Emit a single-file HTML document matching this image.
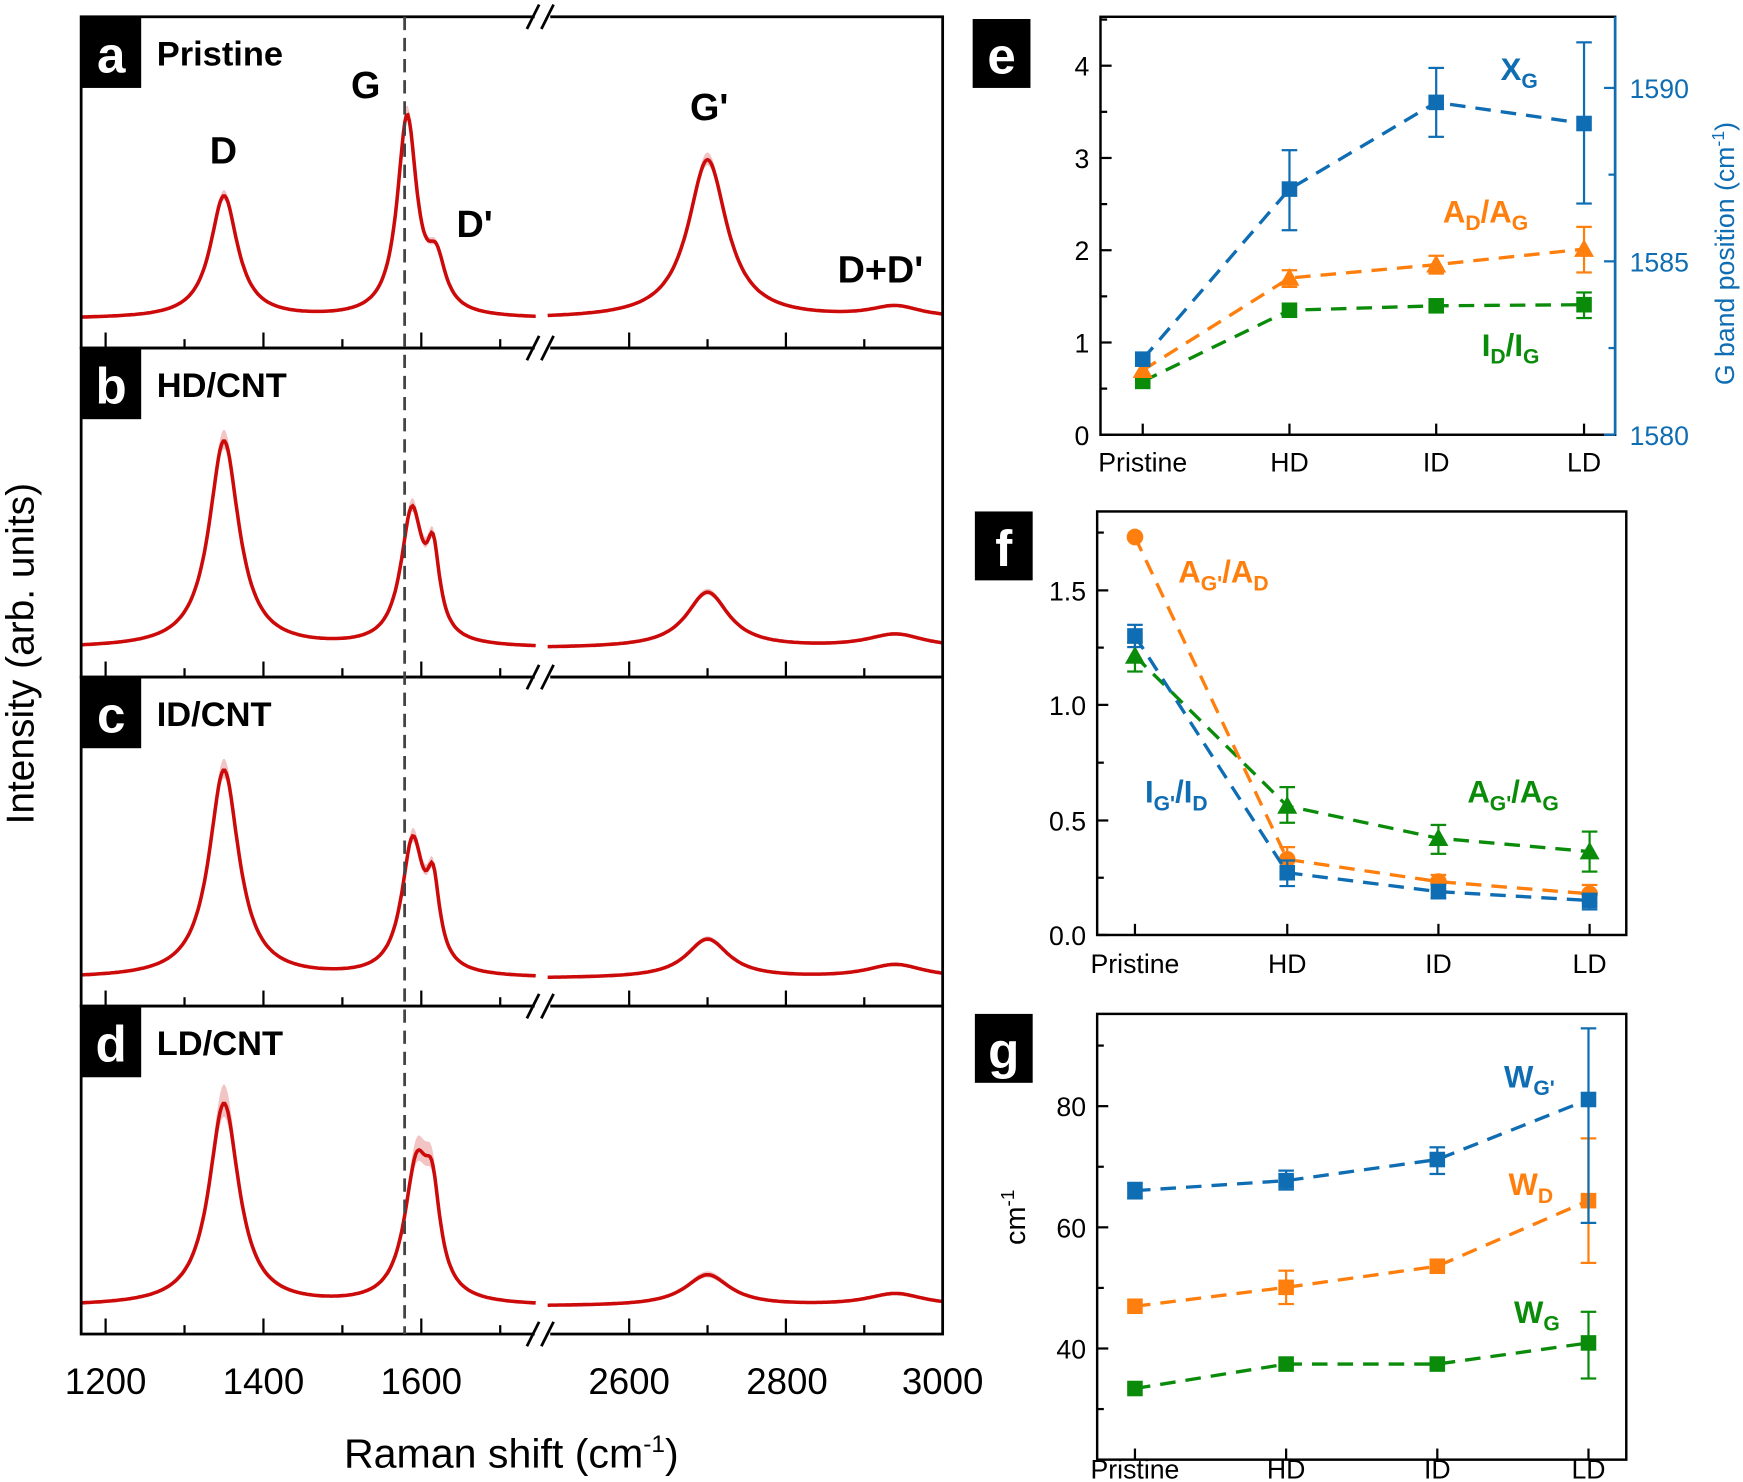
<!DOCTYPE html>
<html><head><meta charset="utf-8"><style>
html,body{margin:0;padding:0;background:#fff}
svg{display:block}
text{font-family:"Liberation Sans",Arial,sans-serif}
</style></head><body>
<svg id="s" width="1743" height="1482" viewBox="0 0 1568 1333" xmlns="http://www.w3.org/2000/svg">
<rect width="1568" height="1333" fill="#fff"/>
<g id="left"></g>
<g id="right"></g>
</svg>
<script>
const NS="http://www.w3.org/2000/svg";
function el(p,tag,attrs,txt){const e=document.createElementNS(NS,tag);for(const k in attrs)e.setAttribute(k,attrs[k]);if(txt!==undefined)e.textContent=txt;p.appendChild(e);return e;}
const L=document.getElementById('left'), R=document.getElementById('right');
const X0=73,X1=848;
function xp(c){return c<2000?95+(c-1200)*0.71:566+(c-2600)*0.705;}
const panels=[
 {t:15,b:313,base:283,lab:'a',name:'Pristine',pk:[[1350,110,21],[1582,178,15],[1619,42,14],[2700,143,30],[2940,10,40]],sh:0.04},
 {t:313,b:609,base:578,lab:'b',name:'HD/CNT',pk:[[1350,186,23],[1588,118,17],[1615,68,10],[2700,50,33],[2940,12,45]],sh:0.05},
 {t:609,b:905,base:875,lab:'c',name:'ID/CNT',pk:[[1350,187,23],[1589,118,17],[1615,66,10],[2700,35,33],[2940,12,45]],sh:0.05},
 {t:905,b:1200,base:1170,lab:'d',name:'LD/CNT',pk:[[1350,182,23],[1594,118,19],[1614,72,12],[2700,28,35],[2940,11,45]],sh:0.09}
];
panels.forEach(p=>{
 function y(c){let s=0;p.pk.forEach(k=>{s+=k[1]/(1+Math.pow((c-k[0])/k[2],2));});return p.base-s+6;}
 const off=y(1200)-p.base;
 function yy(c){return y(c)-off*0.6;}
 [[1169,1745],[2496,3000]].forEach(seg=>{
  let d='';
  for(let c=seg[0];c<=seg[1];c+=2){const X=xp(c).toFixed(1),Y=yy(c).toFixed(1);d+=(d?'L':'M')+X+' '+Y;}
  let a=[],b=[];
  for(let c=seg[0];c<=seg[1];c+=2){const Y=yy(c),h=(p.base-Y);a.push(xp(c).toFixed(1)+' '+(Y-h*p.sh-1).toFixed(1));b.unshift(xp(c).toFixed(1)+' '+(Y+h*p.sh*0.7+1).toFixed(1));}
  el(L,'path',{d:'M'+a.join('L')+'L'+b.join('L')+'Z',fill:'#f2c4c4'});
  el(L,'path',{d:d,fill:'none',stroke:'#cc0a0a','stroke-width':3.2});
 });
 el(L,'rect',{x:X0,y:p.t,width:X1-X0,height:p.b-p.t,fill:'none',stroke:'#000','stroke-width':2.5});
 [1200,1400,1600,2600,2800,3000].forEach(c=>el(L,'line',{x1:xp(c),x2:xp(c),y1:p.b,y2:p.b-14,stroke:'#000','stroke-width':2}));
 [1300,1500,1700,2700,2900].forEach(c=>el(L,'line',{x1:xp(c),x2:xp(c),y1:p.b,y2:p.b-8,stroke:'#000','stroke-width':2}));
 el(L,'rect',{x:X0,y:p.t,width:54,height:64,fill:'#000'});
 el(L,'text',{x:X0+27,y:p.t+50,'font-size':46,'font-weight':'bold',fill:'#fff','text-anchor':'middle'},p.lab);
 el(L,'text',{x:141,y:p.t+44,'font-size':31,'font-weight':'bold'},p.name);
});
el(L,'line',{x1:364,x2:364,y1:15,y2:1200,stroke:'#444','stroke-width':2.5,'stroke-dasharray':'12,7'});
[15,313,609,905,1200].forEach(y=>{
 el(L,'rect',{x:481,y:y-3,width:14,height:6,fill:'#fff'});
 el(L,'line',{x1:474,y1:y+11,x2:485,y2:y-11,stroke:'#000','stroke-width':2.5});
 el(L,'line',{x1:487,y1:y+11,x2:498,y2:y-11,stroke:'#000','stroke-width':2.5});
});
[['D',201,147],['G',329,88],["D'",427,213],["G'",638,108],["D+D'",792,254]].forEach(t=>el(L,'text',{x:t[1],y:t[2],'font-size':34,'font-weight':'bold','text-anchor':'middle'},t[0]));
[[1200,95],[1400,237],[1600,379],[2600,566],[2800,708],[3000,848]].forEach(t=>el(L,'text',{x:t[1],y:1254,'font-size':33,'text-anchor':'middle'},t[0]));
const xl=el(L,'text',{x:460,y:1320,'font-size':37,'text-anchor':'middle'});
xl.innerHTML='Raman shift (cm<tspan dy="-14" font-size="22">-1</tspan><tspan dy="14">)</tspan>';
el(L,'text',{x:0,y:0,'font-size':35,'text-anchor':'middle',transform:'translate(30,588) rotate(-90)'},'Intensity (arb. units)');

const BL='#0f6db3',OR='#ff7f0e',GR='#0a8c0a';
function frame(x0,y0,x1,y1){el(R,'rect',{x:x0,y:y0,width:x1-x0,height:y1-y0,fill:'none',stroke:'#000','stroke-width':2.2});}
function box(x,y,l){el(R,'rect',{x:x,y:y,width:52,height:62,fill:'#000'});el(R,'text',{x:x+26,y:y+49,'font-size':46,'font-weight':'bold',fill:'#fff','text-anchor':'middle'},l);}
function marker(x,y,type,col){
 if(type=='s')el(R,'rect',{x:x-7,y:y-7,width:14,height:14,fill:col});
 else if(type=='t')el(R,'path',{d:`M${x} ${y-9}L${x+9} ${y+7}L${x-9} ${y+7}Z`,fill:col});
 else el(R,'circle',{cx:x,cy:y,r:7.5,fill:col});
}
function series(xs,ys,errs,type,col){
 el(R,'path',{d:'M'+xs.map((x,i)=>x+' '+ys[i]).join('L'),fill:'none',stroke:col,'stroke-width':3,'stroke-dasharray':'14,9'});
 xs.forEach((x,i)=>{const e=errs[i];if(e){el(R,'line',{x1:x,x2:x,y1:e[0],y2:e[1],stroke:col,'stroke-width':2});el(R,'line',{x1:x-7,x2:x+7,y1:e[0],y2:e[0],stroke:col,'stroke-width':2});el(R,'line',{x1:x-7,x2:x+7,y1:e[1],y2:e[1],stroke:col,'stroke-width':2});}marker(x,ys[i],type,col);});
}
function sublab(x,y,main,col){const t=el(R,'text',{x:x,y:y,'font-size':28,'font-weight':'bold',fill:col});t.innerHTML=main;}
function yticks(x0,major,minor,labx){
 major.forEach(t=>{el(R,'line',{x1:x0,x2:x0+10,y1:t[1],y2:t[1],stroke:'#000','stroke-width':2});el(R,'text',{x:labx,y:t[1]+9,'font-size':24,'text-anchor':'end'},t[0]);});
 minor.forEach(y=>el(R,'line',{x1:x0,x2:x0+6,y1:y,y2:y,stroke:'#000','stroke-width':2}));
}
function xticks(xs,yb,ly){xs.forEach((x,i)=>{el(R,'line',{x1:x,x2:x,y1:yb,y2:yb-10,stroke:'#000','stroke-width':2});el(R,'text',{x:x,y:ly,'font-size':24,'text-anchor':'middle'},['Pristine','HD','ID','LD'][i]);});}
// panel e
frame(990,15,1453,391);box(875,17,'e');
const ex=[1028,1160,1292,1425];
yticks(990,[[0,391],[1,308],[2,225],[3,142],[4,59]],[349.5,266.5,183.5,100.5,17.5],980);
[[1580,391],[1585,235],[1590,79]].forEach(t=>{el(R,'line',{x1:1453,x2:1443,y1:t[1],y2:t[1],stroke:BL,'stroke-width':2});el(R,'text',{x:1466,y:t[1]+9,'font-size':24,fill:BL},t[0]);});
[313,157].forEach(y=>el(R,'line',{x1:1453,x2:1447,y1:y,y2:y,stroke:BL,'stroke-width':2}));
el(R,'line',{x1:1453,x2:1453,y1:15,y2:391,stroke:BL,'stroke-width':2.4});
xticks(ex,391,424);
series(ex,[343,279,275,274],[null,null,null,[263,286]],'s',GR);
series(ex,[333,250,238,224],[null,[243,258],[230,246],[204,245]],'t',OR);
series(ex,[323,170,92,111],[null,[135,207],[61,123],[38,183]],'s',BL);
sublab(1350,72,'X<tspan dy="7" font-size="19">G</tspan>',BL);
sublab(1298,200,'A<tspan dy="7" font-size="19">D</tspan><tspan dy="-7">/A</tspan><tspan dy="7" font-size="19">G</tspan>',OR);
sublab(1333,320,'I<tspan dy="7" font-size="19">D</tspan><tspan dy="-7">/I</tspan><tspan dy="7" font-size="19">G</tspan>',GR);
const ry=el(R,'text',{x:0,y:0,'font-size':24,fill:BL,'text-anchor':'middle',transform:'translate(1560,228) rotate(-90)'});
ry.innerHTML='G band position (cm<tspan dy="-9" font-size="16">-1</tspan><tspan dy="9">)</tspan>';
// panel f
frame(987,460,1463,841);box(877,460,'f');
const fx=[1021,1158,1294,1430];
yticks(987,[['0.0',841],['0.5',738],['1.0',634],['1.5',531]],[789.5,686,582.5,479],977);
xticks(fx,841,875);
series(fx,[590,725,754,766],[[578,604],[708,740],[742,768],[748,784]],'t',GR);
series(fx,[483,773,793,804],[null,[762,784],[787,800],[796,812]],'c',OR);
series(fx,[572,785,802,810],[[562,582],[774,797],[796,808],[804,818]],'s',BL);
sublab(1060,524,"A<tspan dy=\"7\" font-size=\"19\">G'</tspan><tspan dy=\"-7\">/A</tspan><tspan dy=\"7\" font-size=\"19\">D</tspan>",OR);
sublab(1030,722,"I<tspan dy=\"7\" font-size=\"19\">G'</tspan><tspan dy=\"-7\">/I</tspan><tspan dy=\"7\" font-size=\"19\">D</tspan>",BL);
sublab(1320,722,"A<tspan dy=\"7\" font-size=\"19\">G'</tspan><tspan dy=\"-7\">/A</tspan><tspan dy=\"7\" font-size=\"19\">G</tspan>",GR);
// panel g
frame(987,912,1463,1313);box(877,912,'g');
const gx=[1021,1157,1293,1429];
yticks(987,[[40,1213],[60,1104],[80,995]],[1267.5,1158.5,1049.5,940.5],977);
xticks(gx,1313,1330);
series(gx,[1249,1227,1227,1208],[null,null,null,[1180,1240]],'s',GR);
series(gx,[1175,1158,1139,1080],[null,[1143,1173],null,[1024,1136]],'s',OR);
series(gx,[1071,1062,1043,989],[[1064,1078],[1053,1070],[1032,1056],[925,1100]],'s',BL);
sublab(1353,978,"W<tspan dy=\"7\" font-size=\"19\">G'</tspan>",BL);
sublab(1357,1075,"W<tspan dy=\"7\" font-size=\"19\">D</tspan>",OR);
sublab(1362,1190,"W<tspan dy=\"7\" font-size=\"19\">G</tspan>",GR);
const gy=el(R,'text',{x:0,y:0,'font-size':26,'text-anchor':'middle',transform:'translate(922,1095) rotate(-90)'});
gy.innerHTML='cm<tspan dy="-10" font-size="17">-1</tspan>';
</script>
</body></html>
